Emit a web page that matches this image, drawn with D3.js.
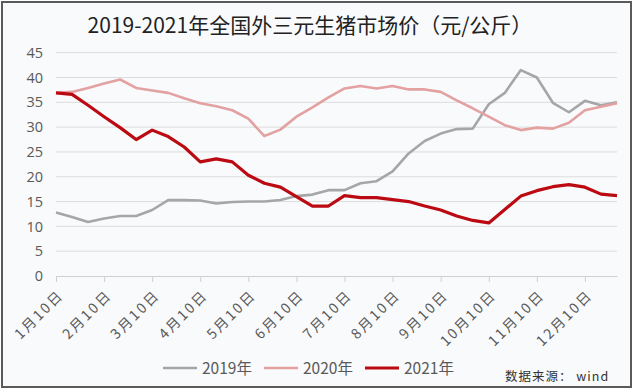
<!DOCTYPE html>
<html>
<head>
<meta charset="utf-8">
<script src="https://cdn.jsdelivr.net/npm/d3@7"></script>
<style>
  body { margin: 0; background: #ffffff; }
  #chart { width: 640px; height: 391px; }
</style>
</head>
<body>
<div id="chart"></div>
<script>
// ten-day periods, one point each
var periods = [
  "1月10日", "1月20日", "1月30日", "2月10日", "2月20日", "2月28日",
  "3月10日", "3月20日", "3月30日", "4月10日", "4月20日", "4月30日",
  "5月10日", "5月20日", "5月30日", "6月10日", "6月20日", "6月30日",
  "7月10日", "7月20日", "7月30日", "8月10日", "8月20日", "8月30日",
  "9月10日", "9月20日", "9月30日", "10月10日", "10月20日", "10月30日",
  "11月10日", "11月20日", "11月30日", "12月10日", "12月20日", "12月30日"
];
var tickLabels = ["1月10日", "2月10日", "3月10日", "4月10日", "5月10日", "6月10日",
  "7月10日", "8月10日", "9月10日", "10月10日", "11月10日", "12月10日"];
var yTicks = [0, 5, 10, 15, 20, 25, 30, 35, 40, 45];

var s2019 = [12.8, 11.9, 10.9, 11.6, 12.1, 12.1, 13.3, 15.3, 15.3, 15.2, 14.6, 14.9,
  15.0, 15.0, 15.3, 16.1, 16.4, 17.3, 17.3, 18.7, 19.1, 21.1, 24.7, 27.2,
  28.7, 29.6, 29.7, 34.6, 36.9, 41.5, 40.0, 34.9, 33.0, 35.3, 34.4, 35.0];
var s2020 = [36.9, 37.1, 37.9, 38.8, 39.6, 37.9, 37.4, 36.9, 35.8, 34.8, 34.2, 33.4,
  31.7, 28.2, 29.5, 32.1, 34.0, 36.0, 37.8, 38.3, 37.8, 38.3, 37.6, 37.6,
  37.1, 35.4, 33.8, 32.1, 30.4, 29.4, 29.9, 29.7, 30.9, 33.4, 34.1, 34.8];
var s2021 = [36.9, 36.6, 34.4, 32.1, 29.9, 27.5, 29.4, 28.1, 26.0, 23.0, 23.6, 23.0,
  20.3, 18.7, 17.9, 16.0, 14.1, 14.1, 16.2, 15.8, 15.8, 15.4, 15.0, 14.1,
  13.3, 12.1, 11.2, 10.7, 13.4, 16.1, 17.2, 18.0, 18.4, 17.9, 16.5, 16.2];

var seriesNames = ["2019年", "2020年", "2021年"];
var seriesValues = [s2019, s2020, s2021];
var seriesColors = ["#a6a6a6", "#e3a1a1", "#bb0a12"];
var seriesWidths = [2.6, 2.6, 3.2];

var title = "2019-2021年全国外三元生猪市场价（元/公斤）";
var source = "数据来源： wind";

var width = 640, height = 391;
var svg = d3.select("#chart").append("svg")
  .attr("width", width)
  .attr("height", height);

var cjk = "'Noto Sans CJK SC', 'Noto Sans', sans-serif";

// frame
svg.append("rect")
  .attr("x", 2).attr("y", 2)
  .attr("width", 629).attr("height", 385)
  .attr("fill", "#f9fafc")
  .attr("stroke", "#5a5a5a")
  .attr("stroke-width", 2);

svg.append("text")
  .attr("x", 310).attr("y", 33)
  .attr("text-anchor", "middle")
  .attr("font-family", cjk)
  .attr("font-size", 21)
  .attr("fill", "#222222")
  .text(title);

var scX = d3.scalePoint()
  .domain(periods)
  .range([56, 617]);
var scY = d3.scaleLinear()
  .domain([0, 45])
  .range([276, 52.7]);

// gridlines
svg.append("g")
  .selectAll("line")
  .data(yTicks.filter(d => d > 0))
  .enter()
  .append("line")
  .attr("x1", 56).attr("x2", 617)
  .attr("y1", d => scY(d)).attr("y2", d => scY(d))
  .attr("stroke", "#dcdcdc")
  .attr("stroke-width", 1);

// y axis labels
var yAxis = svg.append("g")
  .attr("transform", "translate(56,0)")
  .call(d3.axisLeft(scY).tickValues(yTicks).tickSize(0).tickPadding(13));
yAxis.select(".domain").remove();
yAxis.selectAll("text")
  .attr("font-family", "'Open Sans', sans-serif")
  .attr("font-size", 14.5)
  .attr("fill", "#595959");

// x axis
var xAxis = svg.append("g")
  .attr("transform", `translate(0, ${scY(0)})`)
  .call(d3.axisBottom(scX).tickValues(tickLabels).tickSize(6).tickSizeOuter(0));
xAxis.select(".domain").attr("stroke", "#d0d0d0");
xAxis.selectAll(".tick line").attr("stroke", "#d0d0d0");
xAxis.selectAll("text")
  .attr("font-family", cjk)
  .attr("font-size", 14)
  .attr("fill", "#595959")
  .attr("letter-spacing", 2.2)
  .attr("text-anchor", "end")
  .attr("dy", 0)
  .attr("y", 0)
  .attr("transform", "translate(8,20) rotate(-45)");

// lines
var lineMkr = d3.line()
  .x((d, i) => scX(periods[i]))
  .y(d => scY(d));
svg.append("g")
  .selectAll("path")
  .data(seriesValues)
  .enter()
  .append("path")
  .attr("d", lineMkr)
  .attr("fill", "none")
  .attr("stroke", (d, i) => seriesColors[i])
  .attr("stroke-width", (d, i) => seriesWidths[i])
  .attr("stroke-linejoin", "round");

// legend
var legend = svg.append("g")
  .selectAll("g")
  .data(seriesNames)
  .enter()
  .append("g")
  .attr("transform", (d, i) => `translate(${163 + i * 101}, 368)`);
legend.append("line")
  .attr("x1", 0).attr("x2", 34)
  .attr("stroke", (d, i) => seriesColors[i])
  .attr("stroke-width", (d, i) => seriesWidths[i]);
legend.append("text")
  .attr("x", 39).attr("y", 5.5)
  .attr("font-family", cjk)
  .attr("font-size", 15.5)
  .attr("fill", "#595959")
  .text(d => d);

svg.append("text")
  .attr("x", 505).attr("y", 381)
  .attr("font-family", cjk)
  .attr("font-size", 12.5)
  .attr("letter-spacing", 1)
  .attr("fill", "#333333")
  .text(source);
</script>
</body>
</html>
